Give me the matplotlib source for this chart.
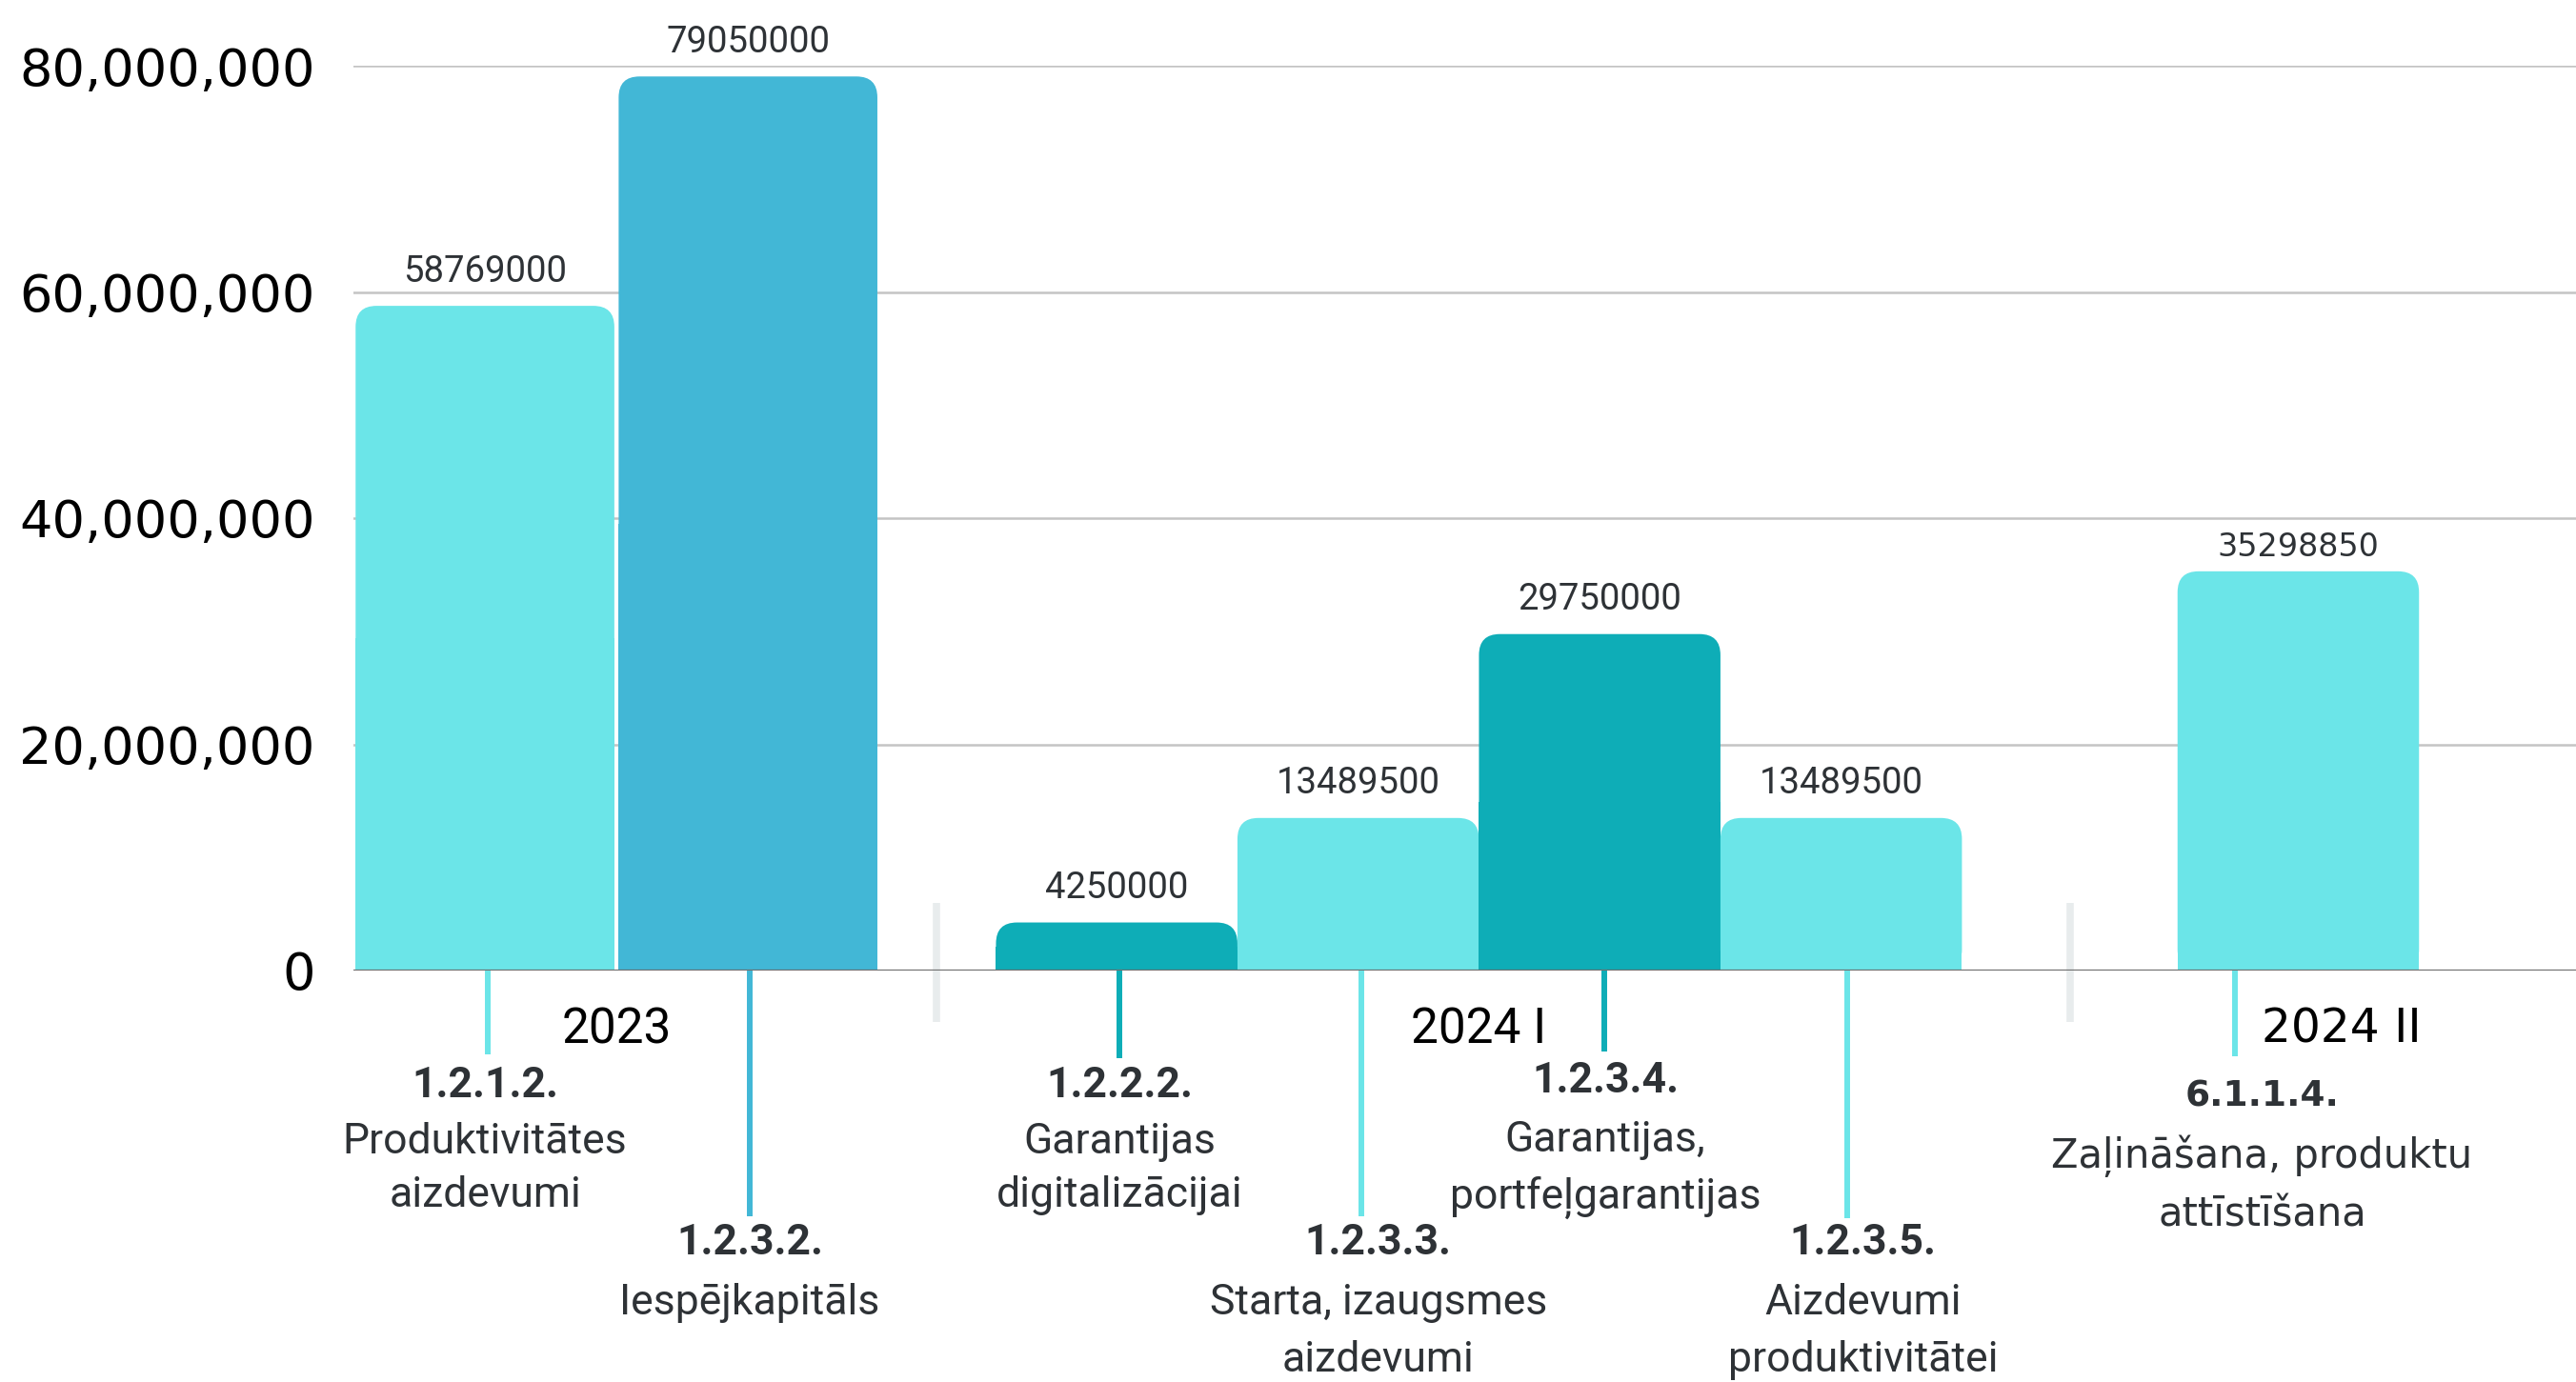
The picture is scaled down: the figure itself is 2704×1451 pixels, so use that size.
import matplotlib
matplotlib.use("Agg")
import matplotlib.pyplot as plt
from matplotlib.patches import FancyBboxPatch, Rectangle
from matplotlib.ticker import StrMethodFormatter

# ---------------- data ----------------
periods = ["2023", "2024 I", "2024 II"]
codes = ["1.2.1.2.", "1.2.3.2.", "1.2.2.2.", "1.2.3.3.", "1.2.3.4.", "1.2.3.5.", "6.1.1.4."]
names = [
    "Produktivitātes\naizdevumi",
    "Iespējkapitāls",
    "Garantijas\ndigitalizācijai",
    "Starta, izaugsmes\naizdevumi",
    "Garantijas,\nportfeļgarantijas",
    "Aizdevumi\nproduktivitātei",
    "Zaļināšana, produktu\nattīstīšana",
]
amounts = [58769000, 79050000, 4250000, 13489500, 29750000, 13489500, 35298850]
period_idx = [0, 0, 1, 1, 1, 1, 2]

# ---------------- style ----------------
LIGHT = "#6BE5E8"
BLUE = "#42B7D6"
TEAL = "#0EADB7"
bar_colors = [LIGHT, BLUE, TEAL, LIGHT, TEAL, LIGHT, LIGHT]
TXT = "#2E3236"

NARROW = "Roboto"       # stand-in for the condensed labels
WIDE = "DejaVu Sans"    # stand-in for the geometric labels of 2024 II

# layout (px measured on the 2704x1451 canvas)
W_PX, H_PX = 2704, 1451
AX_L, AX_R, AX_TOP, AX_BASE = 371, 2704, 69, 1019
group_x = [0, 1, 1.95]
bar_w = [0.30, 0.28, 0.28]
pitch = [0.305, 0.28, 0.28]
XMIN, XMAX = -0.305, 2.272

drop_px = [88, 258, 92, 258, 85, 260, 90]
code_px = [121, 286, 121, 286, 116, 286, 133]
desc_px = [180, 349, 180, 349, 178, 349, 195]
gap_px = [56, 58, 56, 60, 60, 60, 62]
text_dx = [0, 2, 3, 21, 6, 23, -38]
line_dx = [3, 2, 3, 3, 5, 6, -66]

fig = plt.figure(figsize=(W_PX / 100, H_PX / 100), dpi=100)
ax = fig.add_axes([AX_L / W_PX, (H_PX - AX_BASE) / H_PX,
                   (AX_R - AX_L) / W_PX, (AX_BASE - AX_TOP) / H_PX])
ax.set_xlim(XMIN, XMAX)
ax.set_ylim(0, 80e6)

bb = ax.get_window_extent()
xpp = (XMAX - XMIN) / bb.width
ypp = 80e6 / bb.height

# bar positions from group membership
xs, ws = [], []
for g in range(len(periods)):
    members = [i for i, p in enumerate(period_idx) if p == g]
    n = len(members)
    for k, i in enumerate(members):
        xs.append(group_x[g] + (k - (n - 1) / 2) * pitch[g])
        ws.append(bar_w[g])

bars = ax.bar(xs, amounts, width=ws, color=bar_colors, zorder=2)

# rounded tops
r_px = 22
for rect, c in zip(bars, bar_colors):
    x0, w, h = rect.get_x(), rect.get_width(), rect.get_height()
    rect.set_visible(False)
    ax.add_patch(FancyBboxPatch((x0, 0), w, h,
                                boxstyle=f"round,pad=0,rounding_size={r_px * xpp}",
                                mutation_aspect=ypp / xpp, fc=c, ec="none", zorder=2))
    ax.add_patch(Rectangle((x0, 0), w, h / 2, fc=c, ec="none", zorder=2))

# value labels
for i, (x, v) in enumerate(zip(xs, amounts)):
    wide = period_idx[i] == 2
    ax.annotate(f"{v}", (x, v), xytext=(0, 18 if wide else 26), textcoords="offset points",
                ha="center", va="center", fontsize=24 if wide else 27.5,
                family=WIDE if wide else NARROW, color=TXT)

# grid + baseline
ax.set_yticks(range(0, 80000001, 20000000))
ax.yaxis.set_major_formatter(StrMethodFormatter("{x:,.0f}"))
ax.yaxis.grid(True, color="#C4C4C4", lw=1.8)
ax.set_axisbelow(True)
ax.axhline(0, color="#6E6E6E", lw=1.6, zorder=3)
for s in ax.spines.values():
    s.set_visible(False)
ax.tick_params(axis="y", length=0, pad=29, labelsize=39, labelcolor="black")
for lab in ax.get_yticklabels():
    lab.set_family("DejaVu Sans")

# period labels
ax.set_xticks(range(len(periods)))
ax.set_xticklabels(periods)
ax.tick_params(axis="x", length=0, pad=27, labelsize=37, labelcolor="black")
for k, lab in enumerate(ax.get_xticklabels()):
    if k == 2:
        lab.set_family(WIDE)
        lab.set_fontsize(35)
    else:
        lab.set_family(NARROW)

# separators between periods
for g in range(len(periods) - 1):
    right = max(xs[i] + ws[i] / 2 for i in range(len(xs)) if period_idx[i] == g)
    left = min(xs[i] - ws[i] / 2 for i in range(len(xs)) if period_idx[i] == g + 1)
    sx = (right + left) / 2
    ax.plot([sx, sx], [71 * ypp, -54 * ypp], color="#E8ECED", lw=5.5,
            solid_capstyle="butt", clip_on=False, zorder=1)

# leader lines + program labels
for i, x in enumerate(xs):
    lx = x + line_dx[i] * xpp
    ax.plot([lx, lx], [0, -drop_px[i] * ypp], color=bar_colors[i], lw=4.3,
            solid_capstyle="butt", clip_on=False, zorder=1)
    tx = x + text_dx[i] * xpp
    wide = period_idx[i] == 2
    fam = WIDE if wide else NARROW
    ax.text(tx, -code_px[i] * ypp, codes[i], ha="center", va="center",
            fontsize=27 if wide else 32, fontweight="bold", family=fam, color=TXT)
    for k, line in enumerate(names[i].split("\n")):
        ax.text(tx, -(desc_px[i] + k * gap_px[i]) * ypp, line, ha="center", va="center",
                fontsize=30 if wide else 32, family=fam, color=TXT)

fig.savefig("out.png", dpi=100)
